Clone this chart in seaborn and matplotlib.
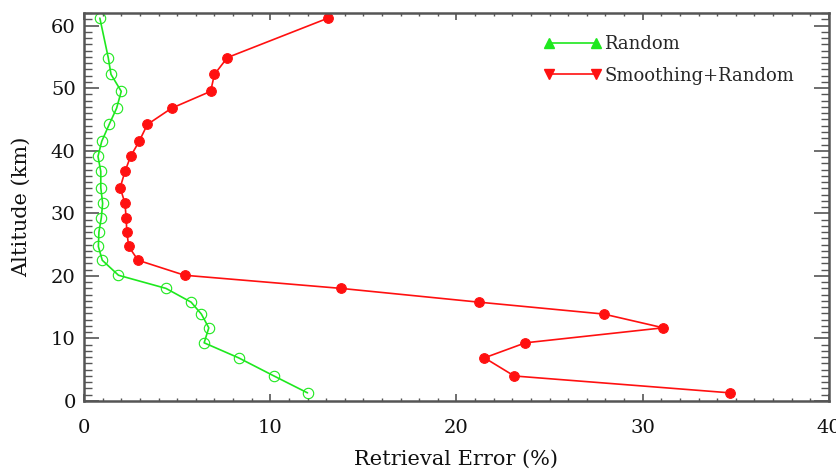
import numpy as np
import pandas as pd
import seaborn as sns
import matplotlib
matplotlib.use("Agg")
from matplotlib import pyplot as plt
from matplotlib.lines import Line2D
from matplotlib.ticker import MultipleLocator

# altitude levels (km)
altitude = [1.3, 4.0, 6.9, 9.3, 11.7, 13.9, 15.8, 18.0, 20.1, 22.5, 24.7, 27.0,
            29.3, 31.6, 34.1, 36.7, 39.1, 41.5, 44.2, 46.8, 49.5, 52.2, 54.9, 61.2]

# retrieval error (%)
random_err = [12.0, 10.2, 8.3, 6.45, 6.7, 6.3, 5.75, 4.4, 1.85, 0.98, 0.77, 0.8,
              0.93, 1.0, 0.9, 0.9, 0.75, 0.95, 1.35, 1.75, 2.0, 1.45, 1.3, 0.85]
smooth_err = [34.7, 23.1, 21.5, 23.7, 31.1, 27.9, 21.2, 13.8, 5.4, 2.9, 2.4, 2.3,
              2.26, 2.2, 1.94, 2.2, 2.5, 2.96, 3.4, 4.7, 6.8, 7.0, 7.7, 13.1]

series_names = ["Random", "Smoothing+Random"]

GREEN = "#1ee81e"
RED = "#ff1010"


def main():
    sns.set_style("ticks")
    plt.rcParams['font.family'] = ['DejaVu Serif']

    df = pd.DataFrame({"alt": altitude, "rnd": random_err, "smr": smooth_err})

    fig = plt.figure(figsize=(8.36, 4.69), dpi=100)
    ax = fig.add_axes([0.1005, 0.145, 0.8911, 0.827])

    sns.lineplot(data=df, x="smr", y="alt", sort=False, estimator=None, ax=ax,
                 color=RED, lw=1.2, marker="o", markersize=7,
                 markerfacecolor=RED, markeredgecolor=RED)
    sns.lineplot(data=df, x="rnd", y="alt", sort=False, estimator=None, ax=ax,
                 color=GREEN, lw=1.2, marker="o", markersize=7.5,
                 markerfacecolor="none", markeredgecolor=GREEN, markeredgewidth=0.8)

    ax.set_xlim(0, 40)
    ax.set_ylim(0, 62)
    ax.xaxis.set_major_locator(MultipleLocator(10))
    ax.xaxis.set_minor_locator(MultipleLocator(1))
    ax.yaxis.set_major_locator(MultipleLocator(10))
    ax.yaxis.set_minor_locator(MultipleLocator(1))

    for s in ax.spines.values():
        s.set_color("#555555")
        s.set_linewidth(1.8)
    ax.tick_params(axis="both", which="both", direction="in", top=True, right=True,
                   color="#555555", labelsize=14, labelcolor="#111111")
    ax.tick_params(axis="x", which="major", length=5, width=1.2, pad=13)
    ax.tick_params(axis="x", which="minor", length=2.5, width=1)
    ax.tick_params(axis="y", which="major", length=11, width=1.2, pad=6)
    ax.tick_params(axis="y", which="minor", length=6, width=1)

    ax.set_xlabel("Retrieval Error (%)", fontsize=15, labelpad=9, color="#111111")
    ax.set_ylabel("Altitude (km)", fontsize=15, labelpad=14, color="#111111")

    handles = [
        Line2D([], [], color=GREEN, lw=1.2, marker="^", markersize=7,
               markerfacecolor=GREEN, markeredgecolor=GREEN),
        Line2D([], [], color=RED, lw=1.2, marker="v", markersize=7,
               markerfacecolor=RED, markeredgecolor=RED),
    ]
    ax.legend(handles, series_names, loc="upper left", bbox_to_anchor=(0.595, 0.985),
              frameon=False, numpoints=2, handlelength=3.2, handletextpad=0.15,
              labelspacing=0.75, fontsize=13)

    fig.savefig("out.png", dpi=100)


if __name__ == '__main__':
    main()
